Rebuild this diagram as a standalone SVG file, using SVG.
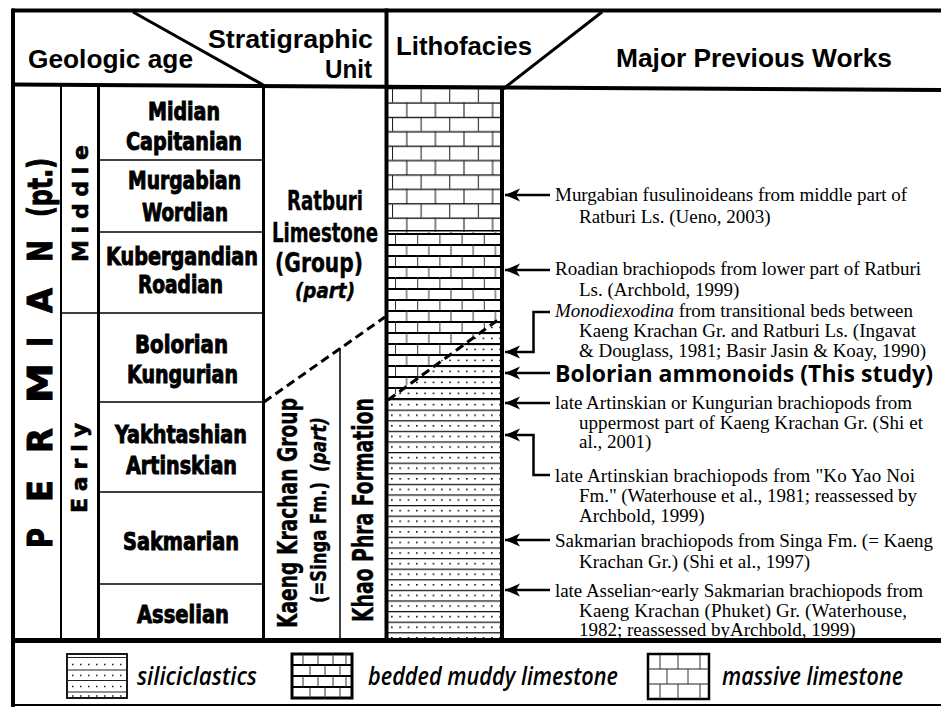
<svg xmlns="http://www.w3.org/2000/svg" width="941" height="707" viewBox="0 0 941 707">
<style>
.ln{stroke:#000;fill:none}
.thin{stroke:#000;stroke-width:1.5;fill:none}
.hd{font-family:'Liberation Sans',Arial,sans-serif;font-weight:bold;font-size:26px}
.st{font-family:'DejaVu Sans Condensed','DejaVu Sans',sans-serif;font-weight:bold;font-size:24px;font-stretch:condensed;stroke:#000;stroke-width:0.9}
.su{font-family:'DejaVu Sans Condensed','DejaVu Sans',sans-serif;font-weight:bold;font-size:27px;font-stretch:condensed;stroke:#000;stroke-width:0.4}
.it{font-style:italic}
.pm{font-family:'DejaVu Sans',sans-serif;font-weight:bold;font-size:34px;stroke:#000;stroke-width:1}
.ep{font-family:'DejaVu Sans',sans-serif;font-weight:bold;font-size:22px;stroke:#000;stroke-width:0.6}
.wk{font-family:'Liberation Serif','Times New Roman',serif;font-size:19px}
.bo{font-family:'Open Sans','Liberation Sans',sans-serif;font-weight:bold;font-size:23px}
.lg{font-family:'Open Sans','Liberation Sans',sans-serif;font-style:italic;font-weight:600;font-size:25px}
.arr{stroke:#000;stroke-width:2.5;fill:none;marker-end:url(#ah)}
</style>
<defs>
<marker id="ah" markerUnits="userSpaceOnUse" markerWidth="16" markerHeight="14" refX="15" refY="6.5" orient="auto">
<path d="M0,0 L15,6.5 L0,13 L4,6.5 Z" fill="#000"/>
</marker>
<pattern id="massive" patternUnits="userSpaceOnUse" x="392" y="88" width="28.6" height="28.8">
<path d="M0,0.6H28.6M0,15H28.6" stroke="#000" stroke-width="1.3"/>
<path d="M0.5,0V14.4M14.8,14.4V28.8" stroke="#222" stroke-width="1.1"/>
</pattern>
<pattern id="bedded" patternUnits="userSpaceOnUse" x="395" y="233" width="22.2" height="22">
<path d="M0,1H22.2M0,12H22.2" stroke="#000" stroke-width="2.2"/>
<path d="M0.5,0V11M11.6,11V22" stroke="#333" stroke-width="1"/>
</pattern>
<pattern id="silic" patternUnits="userSpaceOnUse" x="391" y="399" width="8.33" height="10.6">
<path d="M0,0.6H8.33" stroke="#111" stroke-width="1.3"/>
<rect x="0" y="4.8" width="1.6" height="1.6" fill="#111"/>
</pattern>
<pattern id="silicB" patternUnits="userSpaceOnUse" x="391" y="233" width="8.33" height="11">
<path d="M0,1H8.33" stroke="#000" stroke-width="2.2"/>
<rect x="0" y="5.6" width="1.6" height="1.6" fill="#111"/>
</pattern>
</defs>
<rect width="941" height="707" fill="#fff"/>

<g id="lithofacies-column">
<rect x="386" y="86" width="116" height="146" fill="url(#massive)"/>
<rect x="386" y="232" width="116" height="167" fill="url(#bedded)"/>
<polygon points="387,400 502,316 502,399" fill="#fff"/>
<polygon points="387,400 502,316 502,399" fill="url(#silicB)"/>
<rect x="386" y="399" width="116" height="240" fill="url(#silic)"/>
<path class="ln" d="M386,230.8H502M386,233.8H502" stroke-width="1.5"/>
<path class="ln" d="M388,400 L502,317" stroke-width="3" stroke-dasharray="9 5"/>
</g>

<g id="frame">
<path class="ln" d="M12,10.5H941" stroke-width="4"/>
<path class="ln" d="M13,8.5V707" stroke-width="4"/>
<path class="ln" d="M12,84.5L941,90" stroke-width="4"/>
<path class="ln" d="M133,12L265,86" stroke-width="3"/>
<path class="ln" d="M602,12L503,89" stroke-width="3"/>
<path class="ln" d="M61,85V640" stroke-width="2"/>
<path class="ln" d="M98.5,85V640" stroke-width="3"/>
<path class="ln" d="M263.5,86V640" stroke-width="3"/>
<path class="ln" d="M386.5,8.5V640" stroke-width="4"/>
<path class="ln" d="M502,88V640" stroke-width="4"/>
<path class="ln" d="M340,348V640" stroke-width="1.5"/>
<path class="ln" d="M12,640.5H941" stroke-width="5"/>
<path class="ln" d="M12,705H941" stroke-width="2" stroke="#555"/>
<path class="thin" d="M98,160H264M98,232H264M61,313H264M98,402H264M98,492H264M98,584H264"/>
<path class="ln" d="M264,402 L385,317" stroke-width="3" stroke-dasharray="9 5"/>
</g>

<g id="headers">
<text class="hd" x="28" y="68" textLength="165" lengthAdjust="spacingAndGlyphs">Geologic age</text>
<text class="hd" x="208" y="48" textLength="165" lengthAdjust="spacingAndGlyphs">Stratigraphic</text>
<text class="hd" x="325" y="78" textLength="47" lengthAdjust="spacingAndGlyphs">Unit</text>
<text class="hd" x="396" y="55" textLength="136" lengthAdjust="spacingAndGlyphs">Lithofacies</text>
<text class="hd" x="616" y="67" textLength="276" lengthAdjust="spacingAndGlyphs">Major Previous Works</text>
</g>

<g id="period-permian" transform="rotate(-90)">
<text class="pm" x="-548" y="52" textLength="20" lengthAdjust="spacingAndGlyphs">P</text>
<text class="pm" x="-502" y="52" textLength="22" lengthAdjust="spacingAndGlyphs">E</text>
<text class="pm" x="-453" y="52" textLength="25" lengthAdjust="spacingAndGlyphs">R</text>
<text class="pm" x="-403" y="52" textLength="40" lengthAdjust="spacingAndGlyphs">M</text>
<text class="pm" x="-347" y="52" textLength="10" lengthAdjust="spacingAndGlyphs">I</text>
<text class="pm" x="-313" y="52" textLength="25" lengthAdjust="spacingAndGlyphs">A</text>
<text class="pm" x="-262" y="52" textLength="22" lengthAdjust="spacingAndGlyphs">N</text>
<text class="pm" x="-217" y="52" textLength="59" lengthAdjust="spacingAndGlyphs">(pt.)</text>
</g>

<g id="epochs" transform="rotate(-90)">
<text class="ep" x="-262" y="88" textLength="117" lengthAdjust="spacing">Middle</text>
<text class="ep" x="-513" y="87" textLength="90" lengthAdjust="spacing">Early</text>
</g>

<g id="stages">
<text class="st" x="148" y="120" textLength="72" lengthAdjust="spacingAndGlyphs">Midian</text>
<text class="st" x="126" y="150" textLength="116" lengthAdjust="spacingAndGlyphs">Capitanian</text>
<text class="st" x="128" y="189" textLength="113" lengthAdjust="spacingAndGlyphs">Murgabian</text>
<text class="st" x="142" y="221" textLength="86" lengthAdjust="spacingAndGlyphs">Wordian</text>
<text class="st" x="106" y="265" textLength="152" lengthAdjust="spacingAndGlyphs">Kubergandian</text>
<text class="st" x="138" y="293" textLength="85" lengthAdjust="spacingAndGlyphs">Roadian</text>
<text class="st" x="135" y="353" textLength="93" lengthAdjust="spacingAndGlyphs">Bolorian</text>
<text class="st" x="127" y="383" textLength="111" lengthAdjust="spacingAndGlyphs">Kungurian</text>
<text class="st" x="115" y="443" textLength="132" lengthAdjust="spacingAndGlyphs">Yakhtashian</text>
<text class="st" x="126" y="474" textLength="111" lengthAdjust="spacingAndGlyphs">Artinskian</text>
<text class="st" x="123" y="550" textLength="116" lengthAdjust="spacingAndGlyphs">Sakmarian</text>
<text class="st" x="137" y="623" textLength="92" lengthAdjust="spacingAndGlyphs">Asselian</text>
</g>

<g id="unit-ratburi">
<text class="su" x="287" y="210" textLength="76" lengthAdjust="spacingAndGlyphs">Ratburi</text>
<text class="su" x="272" y="242" textLength="106" lengthAdjust="spacingAndGlyphs">Limestone</text>
<text class="su" x="275" y="272" textLength="88" lengthAdjust="spacingAndGlyphs">(Group)</text>
<text class="su it" x="295" y="298" style="font-size:22px" textLength="60" lengthAdjust="spacingAndGlyphs">(part)</text>
</g>

<g id="unit-kaeng-krachan" transform="rotate(-90)">
<text class="su" x="-628" y="297" style="font-size:27px" textLength="230" lengthAdjust="spacingAndGlyphs">Kaeng Krachan Group</text>
<text class="su" x="-603" y="326" style="font-size:22px" textLength="121" lengthAdjust="spacingAndGlyphs">(=Singa Fm.)</text>
<text class="su it" x="-472" y="326" style="font-size:22px" textLength="55" lengthAdjust="spacingAndGlyphs">(part)</text>
</g>

<g id="unit-khao-phra" transform="rotate(-90)">
<text class="su" x="-622" y="373" style="font-size:29px" textLength="224" lengthAdjust="spacingAndGlyphs">Khao Phra Formation</text>
</g>

<g id="connectors">
<path class="arr" d="M550,195H505"/>
<path class="arr" d="M550,270H505"/>
<path class="arr" d="M550,312H533.5V352H505"/>
<path class="arr" d="M550,373H505"/>
<path class="arr" d="M550,403H505"/>
<path class="arr" d="M550,475H533.5V435H505"/>
<path class="arr" d="M550,540H505"/>
<path class="arr" d="M550,590H505"/>
</g>

<g id="work-murgabian">
<text class="wk" x="555" y="201" textLength="352" lengthAdjust="spacing">Murgabian fusulinoideans from middle part of</text>
<text class="wk" x="579" y="223">Ratburi Ls. (Ueno, 2003)</text>
</g>
<g id="work-roadian">
<text class="wk" x="555" y="275" textLength="366" lengthAdjust="spacing">Roadian brachiopods from lower part of Ratburi</text>
<text class="wk" x="579" y="296">Ls. (Archbold, 1999)</text>
</g>
<g id="work-monodiexodina">
<text class="wk" x="555" y="317" textLength="358" lengthAdjust="spacing"><tspan font-style="italic">Monodiexodina</tspan> from transitional beds between</text>
<text class="wk" x="579" y="337" textLength="337" lengthAdjust="spacing">Kaeng Krachan Gr. and Ratburi Ls. (Ingavat</text>
<text class="wk" x="579" y="357" textLength="347" lengthAdjust="spacing">&amp; Douglass, 1981; Basir Jasin &amp; Koay, 1990)</text>
</g>
<g id="work-this-study">
<text class="bo" x="555" y="382" textLength="378" lengthAdjust="spacingAndGlyphs">Bolorian ammonoids (This study)</text>
</g>
<g id="work-artinskian-kungurian">
<text class="wk" x="555" y="409" textLength="357" lengthAdjust="spacing">late Artinskian or Kungurian brachiopods from</text>
<text class="wk" x="579" y="429" textLength="344" lengthAdjust="spacing">uppermost part of Kaeng Krachan Gr. (Shi et</text>
<text class="wk" x="579" y="448">al., 2001)</text>
</g>
<g id="work-ko-yao-noi">
<text class="wk" x="555" y="482" textLength="360" lengthAdjust="spacing">late Artinskian brachiopods from "Ko Yao Noi</text>
<text class="wk" x="579" y="502" textLength="338" lengthAdjust="spacing">Fm." (Waterhouse et al., 1981; reassessed by</text>
<text class="wk" x="579" y="522">Archbold, 1999)</text>
</g>
<g id="work-sakmarian">
<text class="wk" x="555" y="547" textLength="378" lengthAdjust="spacing">Sakmarian brachiopods from Singa Fm. (= Kaeng</text>
<text class="wk" x="579" y="568">Krachan Gr.) (Shi et al., 1997)</text>
</g>
<g id="work-asselian">
<text class="wk" x="555" y="597" textLength="368" lengthAdjust="spacing">late Asselian~early Sakmarian brachiopods from</text>
<text class="wk" x="579" y="617" textLength="328" lengthAdjust="spacing">Kaeng Krachan (Phuket) Gr. (Waterhouse,</text>
<text class="wk" x="579" y="636">1982; reassessed byArchbold, 1999)</text>
</g>

<g id="legend-siliciclastics">
<rect x="67" y="654" width="60" height="44" fill="#fff" stroke="#000" stroke-width="1.8"/>
<path d="M67,657.5H127M67,670H127M67,680.5H127M67,692H127" stroke="#222" stroke-width="1.2"/>
<path d="M72,664.5H125M72,675.5H125M72,686.5H125M72,696H125" stroke="#222" stroke-width="1.5" stroke-dasharray="1.5 6.5"/>
<text class="lg" x="137" y="685" textLength="120" lengthAdjust="spacingAndGlyphs">siliciclastics</text>
</g>
<g id="legend-bedded">
<rect x="292" y="654" width="60" height="44" fill="#fff" stroke="#000" stroke-width="3"/>
<path d="M292,665H352M292,676H352M292,687H352" stroke="#000" stroke-width="2.2"/>
<path d="M303,654V665M318,654V665M333,654V665M346,654V665M310,665V676M325,665V676M340,665V676M303,676V687M318,676V687M333,676V687M346,676V687M310,687V698M325,687V698M340,687V698" stroke="#333" stroke-width="1"/>
<text class="lg" x="368" y="685" textLength="250" lengthAdjust="spacingAndGlyphs">bedded muddy limestone</text>
</g>
<g id="legend-massive">
<rect x="648" y="654" width="61" height="45" fill="#fff" stroke="#000" stroke-width="2.5"/>
<path d="M648,669H709M648,684H709" stroke="#222" stroke-width="1.2"/>
<path d="M660,654V669M678,654V669M700,654V669M667,669V684M688,669V684M660,684V699M678,684V699M700,684V699" stroke="#333" stroke-width="1"/>
<text class="lg" x="722" y="685" textLength="181" lengthAdjust="spacingAndGlyphs">massive limestone</text>
</g>
</svg>
